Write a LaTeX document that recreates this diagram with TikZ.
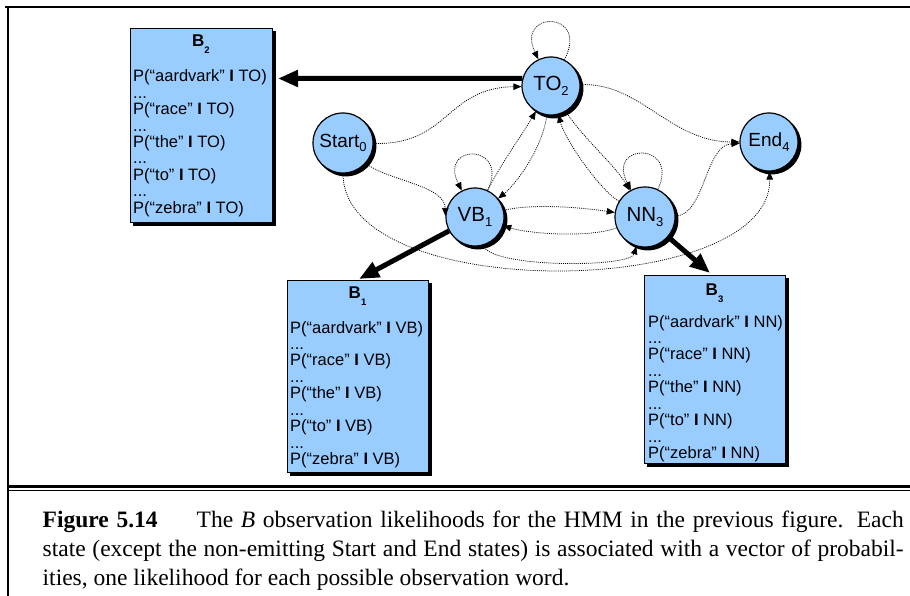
\documentclass[tikz,border=0pt]{standalone}
\usepackage{fontspec}
\setmainfont{Liberation Serif}
\newfontfamily\arialf{Liberation Sans}
\usetikzlibrary{arrows.meta,shadows}
\definecolor{stateblue}{RGB}{153,204,255}
\newcommand\csub[1]{\raisebox{-4.5pt}{\fontsize{13}{13}\selectfont #1}}
\newcommand\bsub[1]{\raisebox{-7pt}{\fontsize{9.5}{9.5}\selectfont\bfseries #1}}
\newcommand\condbar{\textbf{I}}
\tikzset{
  hmmstate/.style={circle, draw=black, line width=1.2pt, fill=stateblue, minimum size=58pt, inner sep=0pt,
    font=\arialf\fontsize{20.5}{20.5}\selectfont,
    copy shadow={shadow xshift=2.8pt, shadow yshift=-2.8pt, fill=black, draw=black}},
  obsbox/.style={rectangle, draw=black, line width=0.8pt, fill=stateblue, anchor=north west, inner sep=0pt,
    copy shadow={shadow xshift=3pt, shadow yshift=-3pt, fill=black, draw=black}},
  ptext/.style={anchor=base west, inner sep=0pt, font=\arialf\fontsize{16.5}{16.5}\selectfont},
  btitle/.style={anchor=base, inner sep=0pt, font=\arialf\bfseries\fontsize{17}{17}\selectfont},
  trans/.style={draw=black, line width=0.75pt, dash pattern=on 1pt off 1.1pt, -{Triangle[length=8pt,width=6.5pt]}},
  emit/.style={draw=black, line width=5pt, -{Triangle[length=20pt,width=16pt]}},
  frameline/.style={line width=2pt, black},
  captext/.style={anchor=base west, inner sep=0pt, font=\fontsize{23.5}{28}\selectfont}
}
\newcommand\problines[4]{%
  \foreach \w [count=\i from 0] in {aardvark,race,the,to,zebra} {
    \node[ptext] (#1p\i) at (#2, #3+\i*32.9) {P(“\w” \condbar{} #4)};
  }
  \foreach \i in {0,1,2,3} {
    \node[ptext] (#1d\i) at (#2, #3+\i*32.9+16.45) {...};
  }
}
\begin{document}
\begin{tikzpicture}[x=1pt,y=-1pt]
\useasboundingbox (0,0) rectangle (910,596);
\fill[white] (0,0) rectangle (910,596);
% frame
\draw[frameline] (5,7) -- (910,7);
\draw[frameline] (7.7,7) -- (7.7,596);
\draw[frameline, line width=2.7pt] (7.7,486.3) -- (910,486.3);
\draw[frameline, line width=1.4pt] (7.7,490.2) -- (910,490.2);

% observation boxes
\node[obsbox, minimum width=142pt, minimum height=194pt] (B2) at (130,28) {};
\node[obsbox, minimum width=141pt, minimum height=192pt] (B1) at (287,280) {};
\node[obsbox, minimum width=141pt, minimum height=188pt] (B3) at (644,275) {};

\node[btitle] (B2t) at (201,47) {B\bsub{2}};
\node[btitle] (B1t) at (357.5,298) {B\bsub{1}};
\node[btitle] (B3t) at (714.5,295) {B\bsub{3}};
\problines{b2}{133}{81.7}{TO}
\problines{b1}{290}{333}{VB}
\problines{b3}{648}{327}{NN}

% states
\node[hmmstate, minimum size=60pt, font=\arialf\fontsize{19}{19}\selectfont] (S) at (343,143) {Start\csub{0}};
\node[hmmstate] (TO) at (551,86) {TO\csub{2}};
\node[hmmstate] (VB) at (475,217) {VB\csub{1}};
\node[hmmstate, minimum size=60pt] (NN) at (645,217) {NN\csub{3}};
\node[hmmstate, font=\arialf\fontsize{19}{19}\selectfont] (E) at (769,142) {End\csub{4}};

% transitions
\draw[trans] (S) .. controls (450,145) and (445,88) .. (TO);
\draw[trans] (S) .. controls (385,180) and (445,185) .. (VB.178);
\draw[trans] (S) .. controls (343,305) and (772,300) .. (E);
\draw[trans] (VB) .. controls (490,268) and (630,268) .. (NN);
\draw[trans] (VB) .. controls (535,203) and (585,208) .. (NN);
\draw[trans] (NN) .. controls (590,238) and (530,234) .. (VB);
\draw[trans] (VB) .. controls (500,165) and (520,138) .. (TO);
\draw[trans] (TO) .. controls (542,150) and (515,185) .. (VB);
\draw[trans] (TO) .. controls (580,135) and (615,165) .. (NN);
\draw[trans] (NN) .. controls (600,190) and (565,140) .. (TO);
\draw[trans] (TO) .. controls (640,82) and (670,142) .. (E);
\draw[trans] (NN) .. controls (705,215) and (705,145) .. (E);
% self loops
\draw[trans] (TO) .. controls (590,10) and (515,10) .. (TO);
\draw[trans] (VB) .. controls (510,143) and (438,143) .. (VB);
\draw[trans] (NN) .. controls (680,142) and (606,142) .. (NN);

% emissions
\coordinate (B2in) at (278,78.5);
\coordinate (B1in) at (359,279);
\coordinate (B3in) at (710,273);
\draw[emit] (TO.165) -- (B2in);
\draw[emit] (VB) -- (B1in);
\draw[emit] (NN) -- (B3in);

% caption
\node[captext] (cap1) at (42.5,527.3) {\makebox[861pt][s]{\textbf{Figure 5.14}\hspace{39pt}The \textit{B} observation likelihoods for the HMM in the previous figure. Each}};
\node[captext] (cap2) at (42.5,556) {\makebox[861pt][s]{state (except the non-emitting Start and End states) is associated with a vector of probabil-}};
\node[captext] (cap3) at (42.5,585) {ities, one likelihood for each possible observation word.};
\end{tikzpicture}
\end{document}
